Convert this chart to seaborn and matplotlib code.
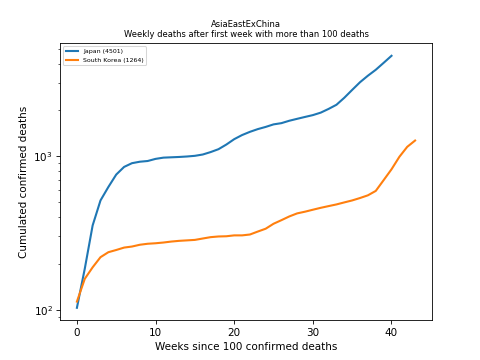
import matplotlib
matplotlib.use("Agg")
import matplotlib.pyplot as plt
import seaborn as sns
import pandas as pd

# cumulated deaths per week
japan = [103, 185, 354, 515, 630, 759, 851, 900, 920, 930,
         960, 978, 983, 988, 995, 1005, 1025, 1063, 1110, 1190,
         1290, 1372, 1440, 1500, 1550, 1610, 1640, 1700, 1750, 1800,
         1850, 1920, 2030, 2160, 2400, 2700, 3030, 3340, 3650, 4050,
         4501]
korea = [113, 159, 189, 220, 237, 245, 254, 258, 265, 269,
         271, 274, 278, 281, 283, 285, 291, 297, 300, 301,
         305, 305, 309, 323, 337, 363, 383, 405, 424, 435,
         448, 461, 473, 485, 500, 515, 534, 556, 594, 698,
         821, 990, 1150, 1264]

countries = ["Japan (4501)", "South Korea (1264)"]

df = pd.concat([
    pd.DataFrame({"week": range(len(japan)), "deaths": japan, "country": countries[0]}),
    pd.DataFrame({"week": range(len(korea)), "deaths": korea, "country": countries[1]}),
])

fig, ax = plt.subplots(figsize=(6.4, 4.8), dpi=75)
sns.lineplot(data=df, x="week", y="deaths", hue="country", ax=ax, linewidth=2)
ax.set_yscale("log")
ax.set_xlabel("Weeks since 100 confirmed deaths")
ax.set_ylabel("Cumulated confirmed deaths")
ax.set_title("AsiaEastExChina\nWeekly deaths after first week with more than 100 deaths", fontsize=8)
ax.legend(loc="upper left", fontsize=6, title=None)

plt.savefig("out.png")
